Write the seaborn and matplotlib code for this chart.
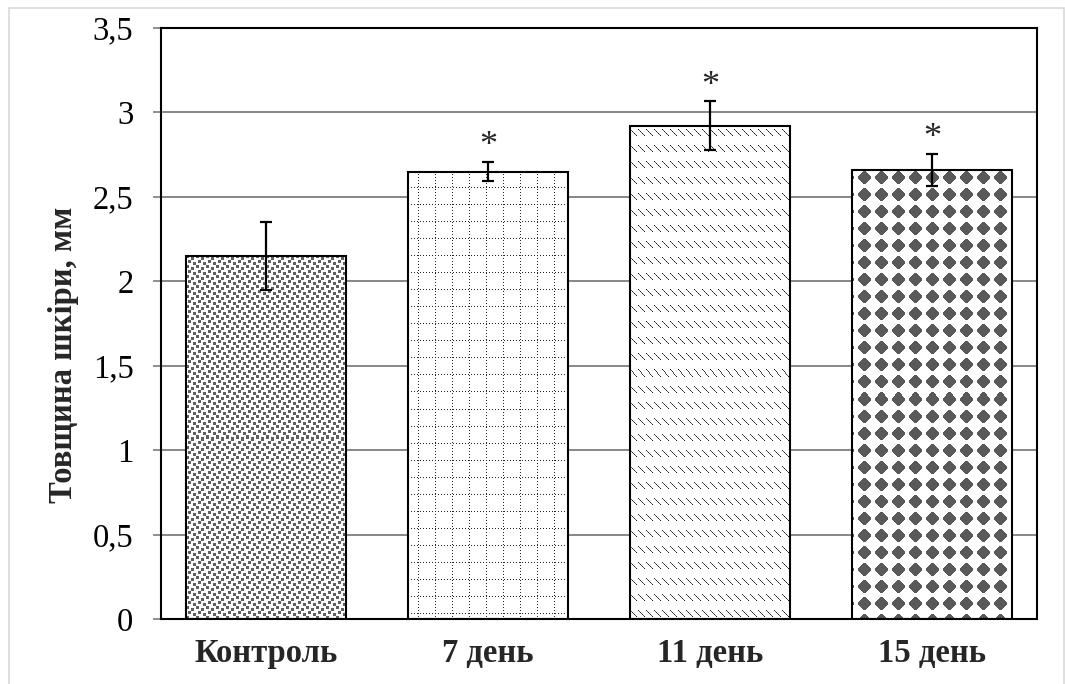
import numpy as np
import pandas as pd
import matplotlib
matplotlib.use("Agg")
import matplotlib.pyplot as plt
from matplotlib.patches import Rectangle
from matplotlib.ticker import FuncFormatter
import seaborn as sns

# Skin thickness by observation day (mean ± error)
groups = ["Контроль", "7 день", "11 день", "15 день"]
thickness = [2.15, 2.65, 2.92, 2.66]
errors = [0.20, 0.055, 0.145, 0.095]
significant = [False, True, True, True]
yticks = [0, 0.5, 1, 1.5, 2, 2.5, 3, 3.5]

sns.set_theme(style="white")
plt.rcParams["font.family"] = ["Liberation Serif", "DejaVu Serif"]

W, H, DPI = 1065, 684, 100
fig = plt.figure(figsize=(W / DPI, H / DPI), dpi=DPI)
ax = fig.add_axes([161 / W, 1 - 619 / H, (1037 - 161) / W, (619 - 28) / H])

df = pd.DataFrame({"group": groups, "thickness": thickness})
sns.barplot(data=df, x="group", y="thickness", order=groups, width=0.72,
            color="white", edgecolor="black", linewidth=1.5,
            errorbar=None, ax=ax, zorder=3)

ax.errorbar(x=np.arange(len(groups)), y=thickness, yerr=errors, fmt="none",
            ecolor="black", elinewidth=1.6, capsize=4.3, capthick=1.6, zorder=5)

for i, (m, e, s) in enumerate(zip(thickness, errors, significant)):
    if s:
        ax.annotate("*", xy=(i, m + e), xytext=(0, 5), textcoords="offset points",
                    ha="center", va="baseline", fontsize=26, zorder=6)

ax.set_xlim(-0.473, 3.473)
ax.set_ylim(0, 3.5)
ax.set_yticks(yticks)
ax.yaxis.set_major_formatter(FuncFormatter(lambda v, p: f"{v:g}".replace(".", ",")))
ax.set_axisbelow(True)
ax.yaxis.grid(True, color="#878787", linewidth=1.4)
ax.xaxis.grid(False)

ax.tick_params(axis="y", which="major", left=True, direction="out", length=5.8,
               width=1.3, color="#878787", pad=14, labelsize=23.5, labelcolor="black")
ax.tick_params(axis="x", length=0, pad=14, labelsize=23.5)
for lab in ax.get_xticklabels():
    lab.set_fontweight("bold")

ax.set_xlabel("")
ax.set_ylabel("Товщина шкіри, мм", fontsize=23.5, fontweight="bold")
ax.yaxis.set_label_coords(-0.094, 0.447)

for sp in ax.spines.values():
    sp.set_visible(True)
    sp.set_color("black")
    sp.set_linewidth(1.5)


# Pixel textures for the bar fills
def tex_confetti(h, w):
    yy, xx = np.indices((h, w))
    tile = np.zeros((10, 10), bool)
    for cx, cy in [(0, 0), (5, 2), (2, 5), (7, 7)]:
        tile[cy:cy + 3, cx:cx + 3] = True
    return np.where(tile[yy % 10, xx % 10], 0.38, 1.0)


def tex_dotted_grid(h, w):
    yy, xx = np.indices((h, w))
    v = (xx % 17 == 10) & (yy % 3 == 0)
    hz = (yy % 17 == 16) & (xx % 3 == 0)
    return np.where(v | hz, 0.15, 1.0)


def tex_dashed_diag(h, w):
    yy, xx = np.indices((h, w))
    tile = np.ones((16, 8))
    for k in range(7):
        tile[k + 4, k] = 0.12 if k % 2 == 0 else 0.35
    return tile[yy % 16, xx % 8]


def tex_diamonds(h, w):
    yy, xx = np.indices((h, w))
    dx = np.abs(((xx - 12 + 8) % 17) - 8)
    dy = np.abs(((yy - 8 + 8) % 17) - 8)
    m = ((dx + dy <= 7) & (np.maximum(dx, dy) <= 6)) | ((dx <= 1) & (dy <= 6)) | ((dy <= 1) & (dx <= 6))
    return np.where(m, 0.35, 1.0)


textures = [tex_confetti, tex_dotted_grid, tex_dashed_diag, tex_diamonds]

fig.canvas.draw()
renderer = fig.canvas.get_renderer()
bars = [p for p in ax.patches if isinstance(p, Rectangle)][:len(groups)]
for bar, fn in zip(bars, textures):
    bb = bar.get_window_extent(renderer)
    pw, ph = int(round(bb.width)), int(round(bb.height))
    g = fn(ph, pw)
    img = np.dstack([g, g, g])
    x0 = bar.get_x()
    x1 = x0 + bar.get_width()
    im = ax.imshow(img, extent=(x0, x1, 0, bar.get_height()), origin="upper",
                   interpolation="nearest", aspect="auto", zorder=2.5)
    im.set_clip_path(bar)
    bar.set_facecolor("none")

ax.set_xlim(-0.473, 3.473)
ax.set_ylim(0, 3.5)

# light outer frame of the chart area
fig.patches.append(Rectangle((9 / W, -0.05), (1064 - 9) / W, 1.05 - 8 / H,
                             transform=fig.transFigure, fill=False,
                             edgecolor="#d9d9d9", linewidth=1.2))

fig.savefig("out.png", dpi=DPI)
